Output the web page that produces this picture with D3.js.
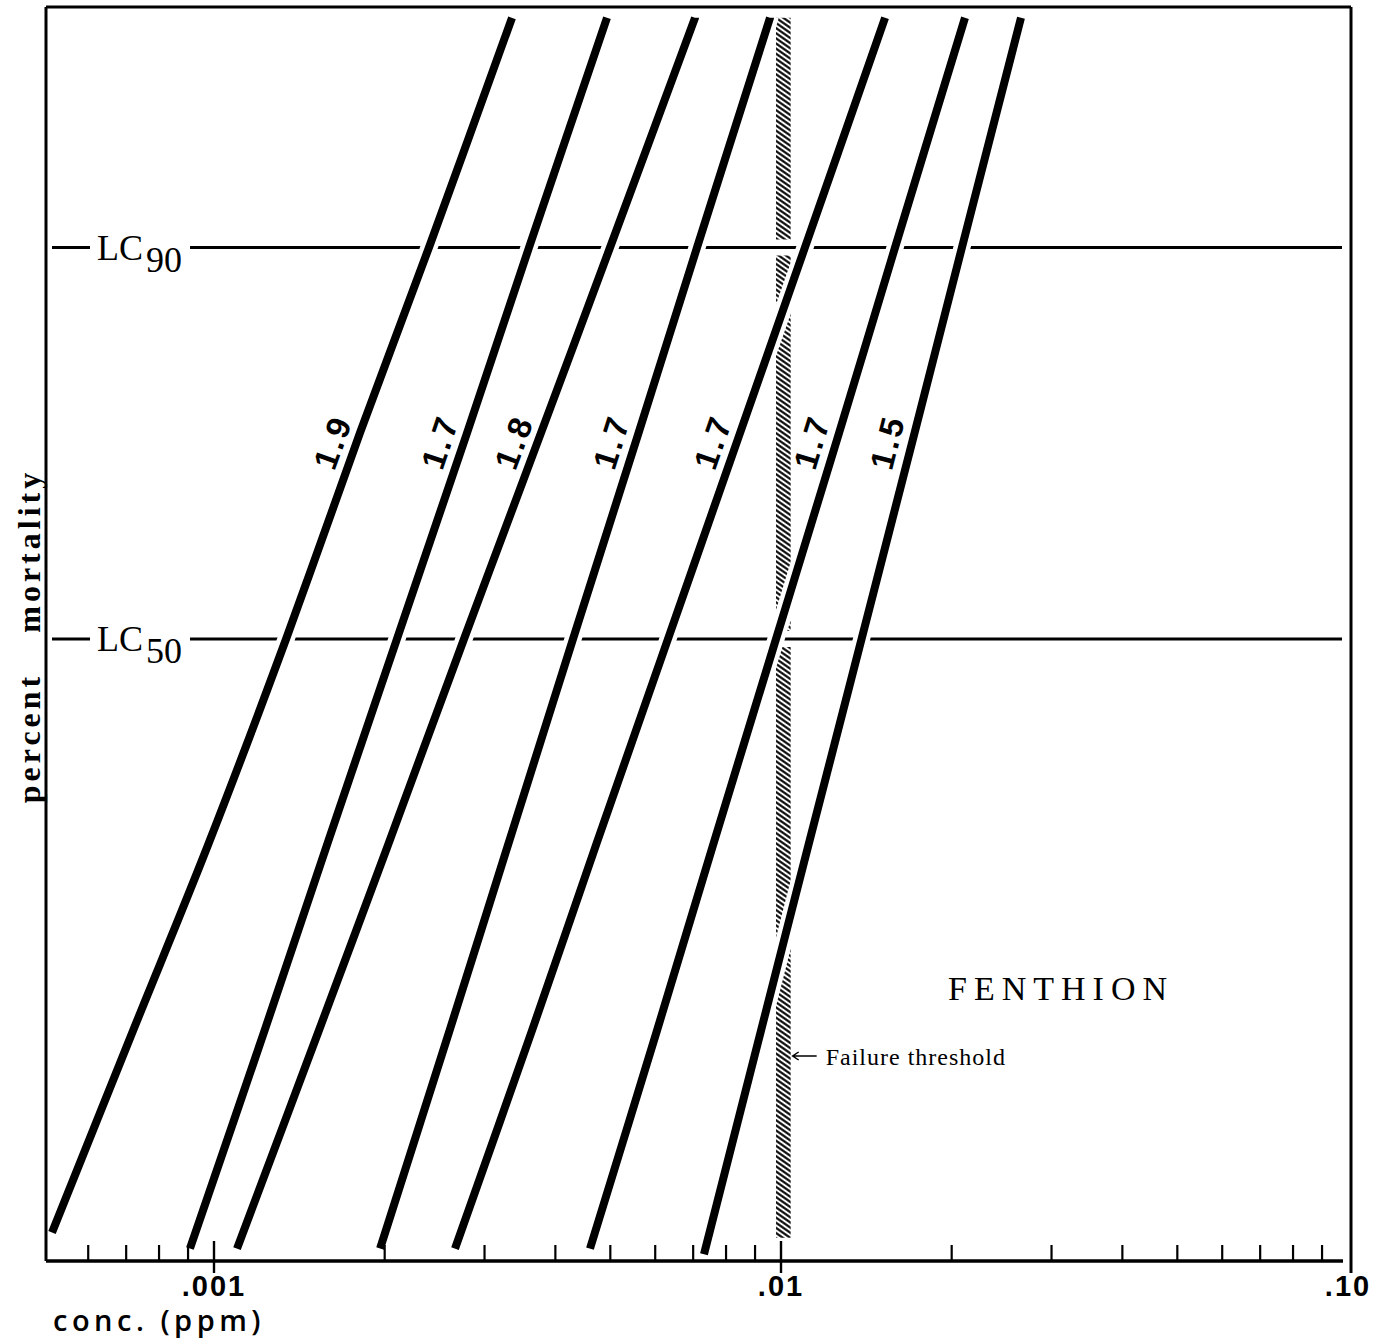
<!DOCTYPE html>
<html>
<head>
<meta charset="utf-8">
<script src="https://cdn.jsdelivr.net/npm/d3@7"></script>
<style>
  body { margin: 0; background: #fff; }
  svg { display: block; }
</style>
</head>
<body>
<svg id="chart" width="1377" height="1338"></svg>
<script>
// Fenthion: percent mortality (probit scale) against concentration (ppm, log scale)

// mortality levels (%) at which each line's concentration is given
const mortalityLevels = [2.3, 10, 25, 50, 75, 90, 97.9];
// the lowest point of each line (replaces the first level)
const lineStartLevels = [2.6, 2.3, 2.3, 2.3, 2.3, 2.3, 2.2];
// slope label written beside each line
const slopeLabels = ["1.9", "1.7", "1.8", "1.7", "1.7", "1.7", "1.5"];
// concentrations (ppm) of each line at the levels above
const line1 = [0.000518, 0.000720, 0.000976, 0.001340, 0.001809, 0.002394, 0.003354];
const line2 = [0.000907, 0.001228, 0.001582, 0.002102, 0.002794, 0.003594, 0.004933];
const line3 = [0.001098, 0.001531, 0.002027, 0.002760, 0.003773, 0.004994, 0.007052];
const line4 = [0.001963, 0.002603, 0.003300, 0.004297, 0.005607, 0.007110, 0.009564];
const line5 = [0.002661, 0.003638, 0.004718, 0.006319, 0.008467, 0.011020, 0.015260];
const line6 = [0.004604, 0.006044, 0.007588, 0.009799, 0.012660, 0.015890, 0.021110];
const line7 = [0.007314, 0.009221, 0.011180, 0.013870, 0.017200, 0.020850, 0.026500];
const lines = [line1, line2, line3, line4, line5, line6, line7];

// lethal concentration reference levels
const lcLevels = [90, 50];
const lcNames = ["90", "50"];

// failure threshold band (ppm) and its vertical extent (% mortality)
const failureBand = [0.0098, 0.0104];
const failureSpan = [2.5, 97.9];

// concentration axis ticks
const minorTicks = [0.0006, 0.0007, 0.0008, 0.0009,
  0.002, 0.003, 0.004, 0.005, 0.006, 0.007, 0.008, 0.009,
  0.02, 0.03, 0.04, 0.05, 0.06, 0.07, 0.08, 0.09];
const majorTicks = [0.001, 0.01];
const tickLabelValues = [0.001, 0.01, 0.1];
const tickLabels = [".001", ".01", ".10"];

// inverse standard normal CDF (Acklam's rational approximation)
function probit(p) {
  const a = [-3.969683028665376e+01, 2.209460984245205e+02, -2.759285104469687e+02,
             1.383577518672690e+02, -3.066479806614716e+01, 2.506628277459239e+00];
  const b = [-5.447609879822406e+01, 1.615858368580409e+02, -1.556989798598866e+02,
             6.680131188771972e+01, -1.328068155288572e+01];
  const c = [-7.784894002430293e-03, -3.223964580411365e-01, -2.400758277161838e+00,
             -2.549732539343734e+00, 4.374664141464968e+00, 2.938163982698783e+00];
  const d = [7.784695709041462e-03, 3.224671290700398e-01, 2.445134137142996e+00,
             3.754408661907416e+00];
  const pl = 0.02425, ph = 1 - pl;
  let q, r;
  if (p < pl) {
    q = Math.sqrt(-2 * Math.log(p));
    return (((((c[0]*q + c[1])*q + c[2])*q + c[3])*q + c[4])*q + c[5]) /
           ((((d[0]*q + d[1])*q + d[2])*q + d[3])*q + 1);
  }
  if (p <= ph) {
    q = p - 0.5; r = q * q;
    return (((((a[0]*r + a[1])*r + a[2])*r + a[3])*r + a[4])*r + a[5]) * q /
           (((((b[0]*r + b[1])*r + b[2])*r + b[3])*r + b[4])*r + 1);
  }
  q = Math.sqrt(-2 * Math.log(1 - p));
  return -(((((c[0]*q + c[1])*q + c[2])*q + c[3])*q + c[4])*q + c[5]) /
          ((((d[0]*q + d[1])*q + d[2])*q + d[3])*q + 1);
}

const frame = { left: 46, right: 1351, top: 7, bottom: 1261 };

const x = d3.scaleLog().domain([0.001, 0.1]).range([214, 1348]);
const z = d3.scaleLinear().domain([0, probit(0.9)]).range([639, 247.5]);
const y = pct => z(probit(pct / 100));

const svg = d3.select("#chart");
const SERIF = "'Liberation Serif', 'Times New Roman', serif";
const SANS = "'Liberation Sans', Arial, sans-serif";

// hatch for the failure threshold band
const defs = svg.append("defs");
const pat = defs.append("pattern")
  .attr("id", "hatch")
  .attr("patternUnits", "userSpaceOnUse")
  .attr("width", 10).attr("height", 4.2)
  .attr("patternTransform", "rotate(35)");
pat.append("line")
  .attr("x1", 0).attr("x2", 10).attr("y1", 2.1).attr("y2", 2.1)
  .attr("stroke", "#000").attr("stroke-width", 2.1);

svg.append("rect")
  .attr("x", x(failureBand[0]))
  .attr("width", x(failureBand[1]) - x(failureBand[0]))
  .attr("y", y(failureSpan[1]))
  .attr("height", y(failureSpan[0]) - y(failureSpan[1]))
  .attr("fill", "url(#hatch)");

// LC reference lines with their labels
const lcG = svg.append("g");
lcLevels.forEach((lv, i) => {
  const yy = y(lv);
  // white band so the hatch breaks around the reference line
  lcG.append("line")
    .attr("x1", frame.left + 6).attr("x2", frame.right - 9)
    .attr("y1", yy).attr("y2", yy)
    .attr("stroke", "#fff").attr("stroke-width", 16);
  const t = lcG.append("text")
    .attr("x", frame.left + 51).attr("y", yy + 12)
    .attr("font-family", SERIF).attr("font-size", 36)
    .attr("fill", "#000");
  t.append("tspan").text("LC");
  t.append("tspan").attr("dx", 3).attr("dy", 12).text(lcNames[i]);
  const bb = t.node().getBBox();
  lcG.append("line")
    .attr("x1", frame.left + 6).attr("x2", bb.x - 7)
    .attr("y1", yy).attr("y2", yy)
    .attr("stroke", "#000").attr("stroke-width", 3);
  lcG.append("line")
    .attr("x1", bb.x + bb.width + 8).attr("x2", frame.right - 9)
    .attr("y1", yy).attr("y2", yy)
    .attr("stroke", "#000").attr("stroke-width", 3);
});

// dose–mortality lines, each with a white halo that breaks what lies beneath
const lineGen = d3.line()
  .x(d => x(d.c))
  .y(d => y(d.p))
  .curve(d3.curveCatmullRom.alpha(0.5));

const linesG = svg.append("g");
lines.forEach((concs, i) => {
  const pts = concs.map((c, k) => ({ c, p: k === 0 ? lineStartLevels[i] : mortalityLevels[k] }));
  linesG.append("path")
    .attr("d", lineGen(pts))
    .attr("fill", "none").attr("stroke", "#fff").attr("stroke-width", 17);
  linesG.append("path")
    .attr("d", lineGen(pts))
    .attr("fill", "none").attr("stroke", "#000").attr("stroke-width", 8);

  // slope label set parallel to the line, on its left
  const x50 = x(concs[3]), y50 = y(mortalityLevels[3]);
  const x90 = x(concs[5]), y90 = y(mortalityLevels[5]);
  const ang = Math.atan2(y90 - y50, x90 - x50) * 180 / Math.PI;
  const lx = x(concs[4]) - 27, ly = y(mortalityLevels[4]) + 9;
  linesG.append("text")
    .attr("transform", `translate(${lx},${ly}) rotate(${ang})`)
    .attr("text-anchor", "middle").attr("dominant-baseline", "central")
    .attr("font-family", SANS).attr("font-weight", "bold")
    .attr("font-size", 33).attr("letter-spacing", 3)
    .text(slopeLabels[i]);
});

// frame and concentration axis
const axG = svg.append("g").attr("stroke", "#000").attr("fill", "none");
axG.append("line").attr("x1", frame.left).attr("x2", frame.left)
  .attr("y1", frame.top).attr("y2", frame.bottom).attr("stroke-width", 3);
axG.append("line").attr("x1", frame.left).attr("x2", frame.right)
  .attr("y1", frame.top).attr("y2", frame.top).attr("stroke-width", 3);
axG.append("line").attr("x1", frame.right).attr("x2", frame.right)
  .attr("y1", frame.top).attr("y2", frame.bottom + 12).attr("stroke-width", 3);
axG.append("line").attr("x1", frame.left).attr("x2", frame.right - 8)
  .attr("y1", frame.bottom).attr("y2", frame.bottom).attr("stroke-width", 3.5);

axG.selectAll(".minor").data(minorTicks).join("line")
  .attr("x1", d => x(d)).attr("x2", d => x(d))
  .attr("y1", frame.bottom - 16).attr("y2", frame.bottom)
  .attr("stroke-width", 2.2);
axG.selectAll(".major").data(majorTicks).join("line")
  .attr("x1", d => x(d)).attr("x2", d => x(d))
  .attr("y1", frame.bottom - 20).attr("y2", frame.bottom + 12)
  .attr("stroke-width", 2.4);

svg.selectAll(".tickLabel").data(tickLabelValues).join("text")
  .attr("x", d => x(d)).attr("y", frame.bottom + 35)
  .attr("text-anchor", "middle")
  .attr("font-family", SANS).attr("font-weight", "bold")
  .attr("font-size", 29).attr("letter-spacing", 2)
  .text((d, i) => tickLabels[i]);

// axis titles
svg.append("text")
  .attr("x", frame.left + 7).attr("y", frame.bottom + 70)
  .attr("font-family", "'Open Sans', sans-serif").attr("font-weight", 600)
  .attr("font-size", 29).attr("letter-spacing", 4.5)
  .text("conc. (ppm)");

svg.append("text")
  .attr("transform", `translate(${frame.left - 6},${y(50) - 3}) rotate(-90)`)
  .attr("text-anchor", "middle")
  .attr("font-family", SERIF).attr("font-weight", "bold")
  .attr("font-size", 32).attr("letter-spacing", 4)
  .style("word-spacing", "28px")
  .text("percent mortality");

// compound name
svg.append("text")
  .attr("x", 948).attr("y", 1000)
  .attr("font-family", SERIF).attr("font-size", 34).attr("letter-spacing", 7)
  .text("FENTHION");

// failure threshold note with arrow
const ax0 = x(failureBand[1]) + 2, ayA = 1056;
svg.append("path")
  .attr("d", `M${ax0 + 24},${ayA} H${ax0} M${ax0 + 6},${ayA - 4} L${ax0},${ayA} L${ax0 + 6},${ayA + 4}`)
  .attr("fill", "none").attr("stroke", "#000").attr("stroke-width", 1.5);
svg.append("text")
  .attr("x", ax0 + 33).attr("y", 1065)
  .attr("font-family", SERIF).attr("font-size", 24).attr("letter-spacing", 1)
  .text("Failure threshold");
</script>
</body>
</html>
